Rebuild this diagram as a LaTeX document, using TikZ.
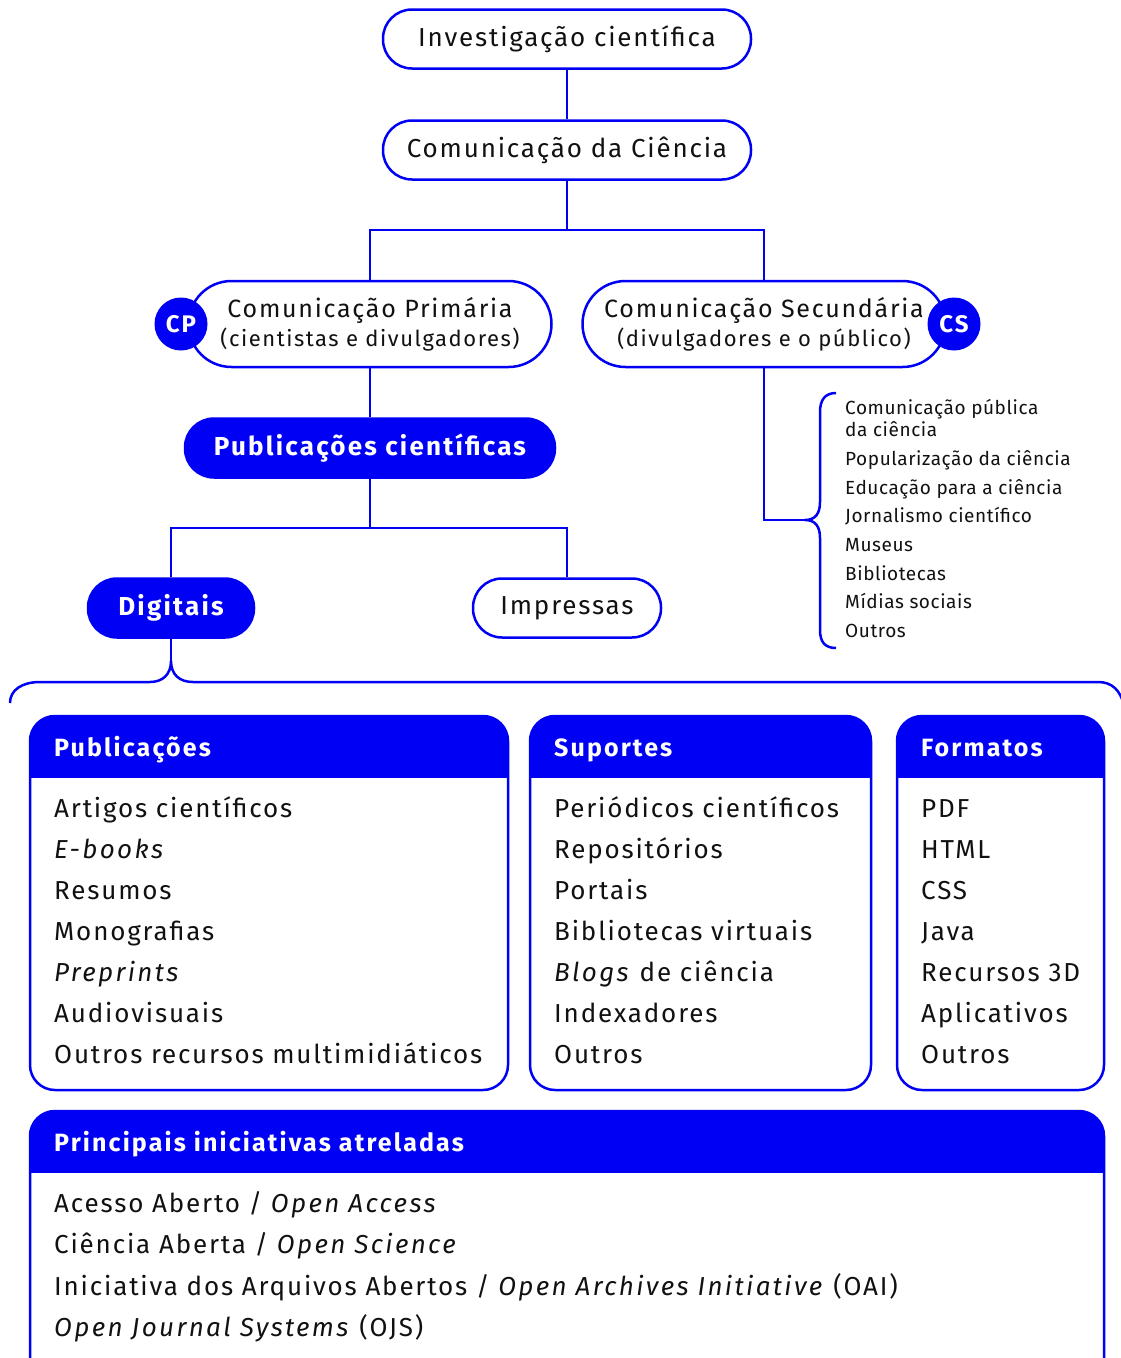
\documentclass[tikz,border=0pt]{standalone}
\usepackage{fontspec}
\setmainfont{Fira Sans}[LetterSpace=7,BoldFeatures={LetterSpace=8.5},ItalicFeatures={LetterSpace=9}]
\newfontfamily\smallfam{Fira Sans}[LetterSpace=3]
\definecolor{bl}{RGB}{0,0,245}
\definecolor{ink}{RGB}{17,17,17}
\begin{document}
\begin{tikzpicture}[x=1pt,y=-1pt,
  conn/.style={draw=bl,line width=2.5pt},
  pill/.style={draw=bl,line width=2.5pt,fill=white,rounded corners=29pt,inner sep=0pt,
    minimum height=59pt,text=ink,font=\fontsize{26}{30}\selectfont},
  fpill/.style={pill,fill=bl,text=white,font=\fontsize{26}{30}\selectfont\bfseries},
  badge/.style={circle,fill=bl,inner sep=0pt,minimum size=53pt,text=white,
    font=\fontsize{24}{26}\selectfont\bfseries},
  small/.style={anchor=base west,inner sep=0pt,text=ink,font=\smallfam\fontsize{19}{22}\selectfont},
  item/.style={anchor=base west,inner sep=0pt,text=ink,font=\fontsize{26}{30}\selectfont},
  head/.style={anchor=base west,inner sep=0pt,text=white,font=\fontsize{25}{30}\selectfont\bfseries}]
\useasboundingbox (0,0) rectangle (1120,1358);

% top nodes
\node[pill,minimum width=368pt] (inv) at (567,39) {Investigação científica};
\node[pill,minimum width=368pt] (com) at (567,150) {Comunicação da Ciência};
\coordinate (fork1) at (567,230);
\node[pill,minimum width=363pt,minimum height=86pt,rounded corners=43pt,align=center] (cpbox) at (370,324)
  {\fontsize{25}{30}\selectfont Comunicação Primária\\[-1pt]\fontsize{22}{26}\selectfont(cientistas e divulgadores)};
\node[pill,minimum width=363pt,minimum height=86pt,rounded corners=43pt,align=center] (csbox) at (764,324)
  {\fontsize{25}{30}\selectfont Comunicação Secundária\\[-1pt]\fontsize{22}{26}\selectfont(divulgadores e o público)};
\node[badge] (cp) at (181,324) {CP};
\node[badge] (cs) at (954,324) {CS};
\node[fpill,minimum width=370pt] (pub) at (370,448) {Publicações científicas};
\coordinate (fork2) at (370,528);
\node[fpill,minimum width=166pt] (dig) at (171,608) {Digitais};
\node[pill,minimum width=188pt] (imp) at (567,608) {Impressas};

\draw[conn] (inv) -- (com);
\draw[conn] (com) -- (fork1);
\draw[conn] (fork1) -| (cpbox);
\draw[conn] (fork1) -| (csbox);
\draw[conn] (cpbox) -- (pub);
\draw[conn] (pub) -- (fork2);
\draw[conn] (fork2) -| (dig);
\draw[conn] (fork2) -| (imp);

% secondary list brace
\coordinate (btip) at (805,520);
\draw[conn] (csbox) |- (btip);
\draw[bl,line width=2.5pt] (836,393) .. controls (825,393) and (820,400) .. (820,412) -- (820,502)
  .. controls (820,514) and (815,520) .. (btip)
  .. controls (815,520) and (820,526) .. (820,538) -- (820,630)
  .. controls (820,642) and (825,648) .. (836,648);
\node[small] (s1) at (845,414) {Comunicação pública};
\node[small] (s2) at (845,436) {da ciência};
\node[small] (s3) at (845,465) {Popularização da ciência};
\node[small] (s4) at (845,494) {Educação para a ciência};
\node[small] (s5) at (845,522) {Jornalismo científico};
\node[small] (s6) at (845,551) {Museus};
\node[small] (s7) at (845,580) {Bibliotecas};
\node[small] (s8) at (845,608) {Mídias sociais};
\node[small] (s9) at (845,637) {Outros};

% big brace under Digitais
\coordinate (dtip) at (171,661);
\draw[conn] (dig) -- (dtip);
\draw[bl,line width=2.5pt] (10,703) .. controls (10,690) and (22,682) .. (40,682) -- (150,682)
  .. controls (162,682) and (171,675) .. (dtip)
  .. controls (171,675) and (180,682) .. (193,682) -- (1098,682)
  .. controls (1112,682) and (1120,690) .. (1124,705);

% panels
\newcommand\mypanel[4]{%
  \fill[bl,rounded corners=25pt] (#1,#3) rectangle (#2,{#3+90});
  \fill[white] (#1,{#3+62}) rectangle (#2,{#4-30});
  \draw[bl,line width=2.5pt,rounded corners=25pt] (#1,#3) rectangle (#2,#4);}
\mypanel{30}{508}{716}{1090}
\mypanel{530}{871}{716}{1090}
\mypanel{897}{1104}{716}{1090}
\mypanel{30}{1104}{1111}{1420}

\node[head] (h1) at (54,756) {Publicações};
\node[head] (h2) at (554,756) {Suportes};
\node[head] (h3) at (921,756) {Formatos};
\node[head] (h4) at (54,1151) {Principais iniciativas atreladas};

\foreach \t [count=\i] in {Artigos científicos,\textit{E-books},Resumos,Monografias,\textit{Preprints},Audiovisuais,Outros recursos multimidiáticos}
  \node[item] (pa\i) at (54,{776+41*\i}) {\t};
\foreach \t [count=\i] in {Periódicos científicos,Repositórios,Portais,Bibliotecas virtuais,\textit{Blogs} de ciência,Indexadores,Outros}
  \node[item] (su\i) at (554,{776+41*\i}) {\t};
\foreach \t [count=\i] in {PDF,HTML,CSS,Java,Recursos 3D,Aplicativos,Outros}
  \node[item] (fo\i) at (921,{776+41*\i}) {\t};

\node[item] (i1) at (54,1212) {Acesso Aberto / \textit{Open Access}};
\node[item] (i2) at (54,1253) {Ciência Aberta / \textit{Open Science}};
\node[item] (i3) at (54,1295) {Iniciativa dos Arquivos Abertos / \textit{Open Archives Initiative} (OAI)};
\node[item] (i4) at (54,1336) {\textit{Open Journal Systems} (OJS)};
\end{tikzpicture}
\end{document}
